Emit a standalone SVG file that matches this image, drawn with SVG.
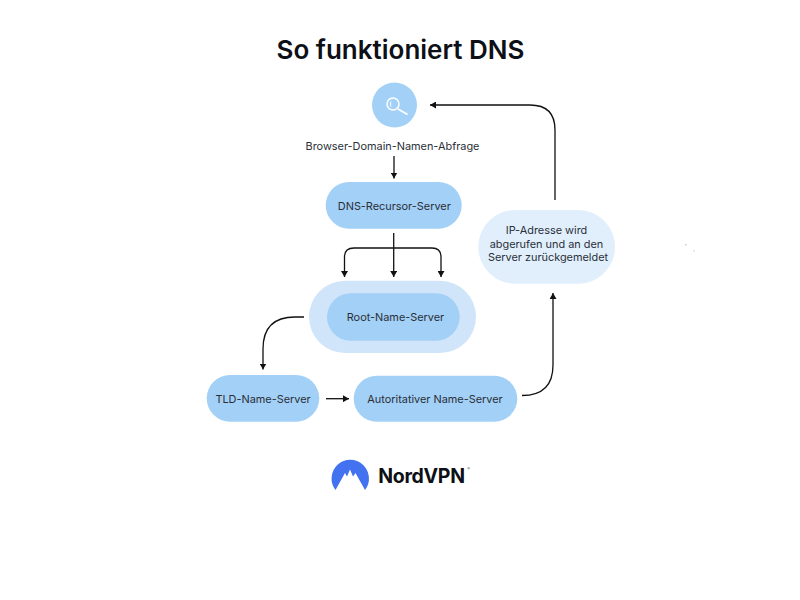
<svg xmlns="http://www.w3.org/2000/svg" width="800" height="600" viewBox="0 0 800 600">
<style>
text{font-family:Inter,"Liberation Sans",sans-serif;fill:#2a2f38;font-size:10.9px;text-anchor:middle}
.title{font-size:26px;font-weight:600;fill:#0d1016}
.b{fill:#a3d0f6}
.c{fill:none;stroke:#111;stroke-width:1.3}
</style>
<defs>
<marker id="a" markerUnits="userSpaceOnUse" markerWidth="7" markerHeight="7" refX="6" refY="3.5" orient="auto"><path d="M0 0L6 3.500L0 7z" fill="#111"/></marker>
</defs>
<rect width="800" height="600" fill="#fff"/>
<text id="title" class="title" x="400.500" y="58.500">So funktioniert DNS</text>
<g id="connectors">
<path class="c" marker-end="url(#a)" d="M394 156V178.500"/>
<path class="c" marker-end="url(#a)" d="M393.700 233V277"/>
<path class="c" marker-end="url(#a)" d="M393.700 248H354Q344.500 248 344.500 257V277"/>
<path class="c" marker-end="url(#a)" d="M393.700 248H432Q441 248 441 257V277"/>
<path class="c" marker-end="url(#a)" d="M304 317H295Q263 317 263 349V369.500"/>
<path class="c" marker-end="url(#a)" d="M555 200V130Q555 105 530 105H430"/>
<path class="c" marker-end="url(#a)" d="M326 398.700H349"/>
<path class="c" marker-end="url(#a)" d="M522 395.500Q553 395.500 553 365V293"/>
</g>
<g id="search">
<circle class="b" cx="394.500" cy="105" r="22.500"/>
<circle cx="393" cy="104" r="6" fill="none" stroke="#fff" stroke-width="1.500"/>
<path d="M398 109L407.500 114.500" stroke="#fff" stroke-width="1.800" fill="none"/>
<path d="M391 101.500Q389.500 104 391 106.500" stroke="#fff" stroke-width="1" fill="none"/>
</g>
<g id="query"><text x="392.500" y="150">Browser-Domain-Namen-Abfrage</text></g>
<g id="recursor"><rect class="b" x="325.700" y="182" width="136" height="46.700" rx="23.350"/><text x="394.300" y="210">DNS-Recursor-Server</text></g>
<g id="root"><rect x="309" y="280.700" width="167" height="72.300" rx="36" fill="#d0e5f9"/><rect class="b" x="327" y="293.300" width="132.700" height="47.400" rx="23.700"/><text x="395.500" y="321">Root-Name-Server</text></g>
<g id="tld"><rect class="b" x="206.700" y="375" width="112.600" height="46.700" rx="23.350"/><text x="263" y="402.500">TLD-Name-Server</text></g>
<g id="auth"><rect class="b" x="353.700" y="375.700" width="163.600" height="46" rx="23"/><text x="435" y="402.500">Autoritativer Name-Server</text></g>
<g id="ip"><rect x="478.300" y="210" width="136.700" height="73.700" rx="36.800" fill="#e1effd"/><text x="546" y="234"><tspan x="546.500" y="234">IP-Adresse wird</tspan><tspan x="546.500" y="247.500">abgerufen und an den</tspan><tspan x="548" y="261">Server zurückgemeldet</tspan></text></g>
<g id="logo">
<path d="M335.500 490A18.700 18.700 0 1 1 365 490L355.500 473L353 476.500L350 469.500L347 476.500L345 473z" fill="#4372f0"/>
<text x="421.500" y="482.500" style="font-size:19.500px;font-weight:700;fill:#0d1016;letter-spacing:-0.3px">NordVPN</text>
<text x="468.500" y="470" style="font-size:4px;fill:#555">®</text>
</g>
<g id="specks"><rect x="685" y="244" width="1.500" height="1.500" fill="#ccc"/><rect x="693.500" y="250" width="1.500" height="1.500" fill="#ddd"/></g>
</svg>
